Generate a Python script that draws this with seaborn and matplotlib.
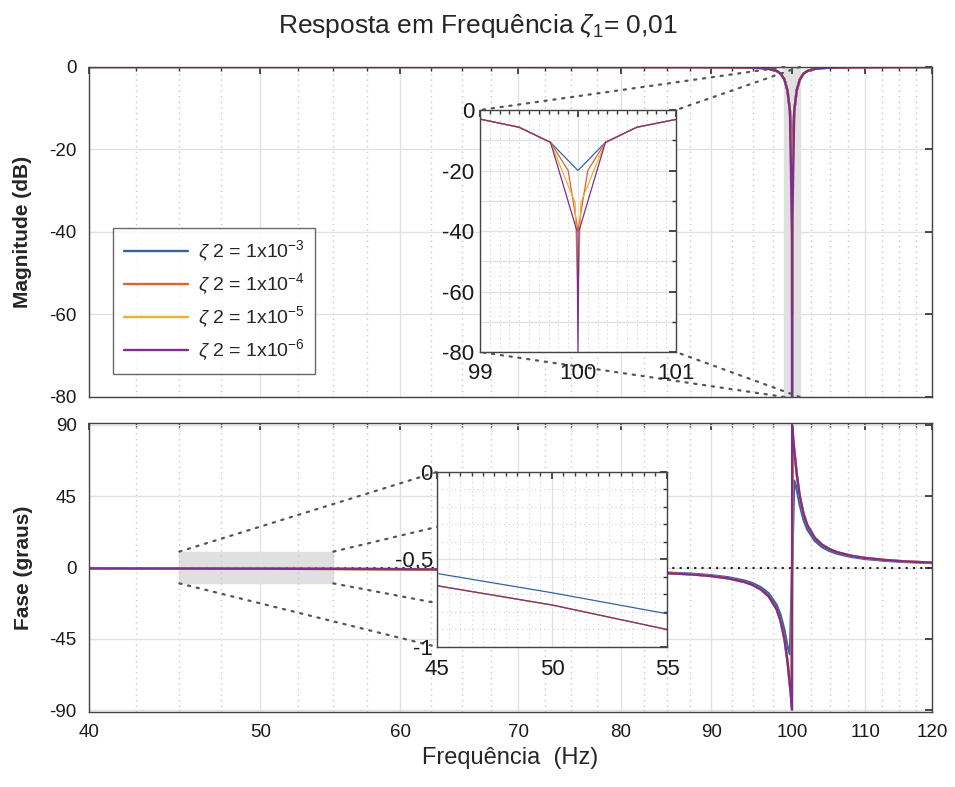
import numpy as np
import pandas as pd
import matplotlib.pyplot as plt
import seaborn as sns
from matplotlib.patches import Rectangle, ConnectionPatch
from matplotlib.ticker import FixedLocator, NullFormatter

sns.set_theme(style='white')
plt.rcParams['font.family'] = ['Liberation Sans', 'DejaVu Sans']
plt.rcParams['mathtext.fontset'] = 'custom'
plt.rcParams['mathtext.rm'] = 'Liberation Sans'
plt.rcParams['mathtext.it'] = 'Liberation Sans:italic'
plt.rcParams['axes.unicode_minus'] = False

# frequency grid (Hz)
freq_left = [40, 45, 50, 55, 60, 65, 70, 75, 80, 84, 88, 90, 92, 94, 95, 96, 97, 98, 98.5, 99, 99.4, 99.72]
freq_right = [100.28, 100.6, 101, 101.5, 102, 103, 104, 105, 106, 108, 110, 113, 116, 120]

# magnitude (dB), shared away from the notch
mag_left = [0, 0, 0, 0, 0, 0, 0, -0.01, -0.01, -0.02, -0.03, -0.04, -0.06, -0.11, -0.16, -0.25,
            -0.45, -0.95, -1.6, -3.0, -5.7, -10.7]
mag_right = [-10.7, -5.7, -3.1, -1.6, -1.0, -0.47, -0.27, -0.18, -0.13, -0.07, -0.05, -0.03, -0.02, -0.01]

# phase (graus)
phase_left = [-0.55, -0.65, -0.76, -0.9, -1.07, -1.29, -1.57, -1.96, -2.54, -3.27, -4.46, -5.41, -6.83,
              -9.17, -11.0, -13.8, -18.2, -26.3, -33.5, -44.9, -59.0, -74.3]
phase_right = [74.4, 59.1, 45.1, 33.9, 26.8, 18.7, 14.3, 11.6, 9.7, 7.4, 6.0, 4.7, 3.8, 3.1]
phase_left_b = [-0.49, -0.58, -0.69, -0.81, -0.97, -1.16, -1.42, -1.77, -2.29, -2.94, -4.01, -4.87, -6.14,
                -8.25, -9.9, -12.4, -16.3, -23.5, -29.7, -39.2, -49.6, -54.7]
phase_right_b = [54.7, 49.6, 39.4, 30.1, 23.9, 16.8, 12.8, 10.4, 8.75, 6.66, 5.38, 4.2, 3.46, 2.81]

# points right at the notch, one set per curve
labels = [r'$\zeta$ 2 = 1x10$^{-3}$', r'$\zeta$ 2 = 1x10$^{-4}$',
          r'$\zeta$ 2 = 1x10$^{-5}$', r'$\zeta$ 2 = 1x10$^{-6}$']
notch_f = [[100.0], [99.9, 100.0, 100.1], [99.97, 100.0, 100.03], [99.99, 100.0, 100.01]]
notch_mag = [[-20], [-20, -40, -20], [-30.5, -60, -30.5], [-40, -80, -40]]
notch_phase = [[0], [-78.6, 0, 78.6], [-86.4, 0, 86.4], [-89.5, 0, 89.5]]
colors = ['#35649e', '#e0622f', '#efb02c', '#7e2f8e']

rows = []
for i, lab in enumerate(labels):
    pl = phase_left_b if i == 0 else phase_left
    pr = phase_right_b if i == 0 else phase_right
    f = freq_left + notch_f[i] + freq_right
    m = mag_left + notch_mag[i] + mag_right
    p = pl + notch_phase[i] + pr
    for a, b, c in zip(f, m, p):
        rows.append((lab, a, b, c))
df = pd.DataFrame(rows, columns=['serie', 'freq', 'mag', 'fase'])
pal = dict(zip(labels, colors))

fig = plt.figure(figsize=(9.55, 7.87), dpi=100)
ax1 = fig.add_axes([0.0932, 0.4956, 0.8827, 0.4193], zorder=1)
ax2 = fig.add_axes([0.0932, 0.0953, 0.8827, 0.3672], zorder=1)
ins1 = fig.add_axes([0.5026, 0.5527, 0.2052, 0.3075], zorder=3)
ins2 = fig.add_axes([0.4576, 0.1779, 0.2408, 0.2224], zorder=3)

def style(ax, size, xpad, ypad):
    ax.tick_params(which='both', direction='in', top=True, right=True, colors='#333333',
                   labelcolor='#1a1a1a', labelsize=size)
    ax.tick_params(axis='x', which='major', length=5, pad=xpad)
    ax.tick_params(axis='y', which='major', length=5, pad=ypad)
    ax.tick_params(which='minor', length=3)
    for s in ax.spines.values():
        s.set_color('#444444')
        s.set_linewidth(1)
    ax.grid(which='major', color='#e2e2e2', lw=1, ls='-')
    ax.set_axisbelow(True)

# main axes
ax1.axvspan(99, 101, color='#e0e0e0', zorder=0)
ax2.add_patch(Rectangle((45, -10), 10, 20, color='#e0e0e0', zorder=0))
ax2.axhline(0, color='#222222', ls=(0, (1, 2.5)), lw=1.5, zorder=1)

sns.lineplot(data=df, x='freq', y='mag', hue='serie', palette=pal, ax=ax1, lw=1.7,
             estimator=None, sort=False)
sns.lineplot(data=df, x='freq', y='fase', hue='serie', palette=pal, ax=ax2, lw=1.7,
             estimator=None, sort=False, legend=False)

for ax in (ax1, ax2):
    ax.set_xscale('log')
    ax.set_xlim(40, 120)
    ax.xaxis.set_major_locator(FixedLocator([40, 50, 60, 70, 80, 90, 100, 110, 120]))
    ax.xaxis.set_minor_locator(FixedLocator(np.arange(40, 120.1, 2.5)))
    ax.xaxis.set_minor_formatter(NullFormatter())
    style(ax, 13.5, 9, 9)
    ax.grid(which='minor', axis='x', color='#c8c8c8', ls=(0, (1, 3)), lw=1)

ax1.set_ylim(-80, 0)
ax1.set_yticks([-80, -60, -40, -20, 0])
ax1.set_xticklabels([])
ax1.set_xlabel('')
ax1.set_ylabel('Magnitude (dB)', fontsize=15, fontweight='bold', labelpad=12)

ax2.set_ylim(-91, 91)
ax2.set_yticks([-90, -45, 0, 45, 90])
ax2.set_xticklabels(['40', '50', '60', '70', '80', '90', '100', '110', '120'])
ax2.set_xlabel('Frequência  (Hz)', fontsize=17, labelpad=4)
ax2.set_ylabel('Fase (graus)', fontsize=15, fontweight='bold', labelpad=12)

leg = ax1.legend(loc='upper left', bbox_to_anchor=(0.0285, 0.512), borderaxespad=0,
                 fontsize=14, handlelength=3.3, handletextpad=0.5, frameon=True,
                 fancybox=False, borderpad=0.55, labelspacing=0.38)
leg.get_frame().set_edgecolor('#444444')
leg.get_frame().set_linewidth(1)

# inset 1: zoom on the notch
sns.lineplot(data=df, x='freq', y='mag', hue='serie', palette=pal, ax=ins1, lw=0.9,
             estimator=None, sort=False, legend=False)
ins1.set_xlim(99, 101)
ins1.set_ylim(-80, 0)
ins1.set_xticks([99, 100, 101])
ins1.set_yticks([-80, -60, -40, -20, 0])
ins1.xaxis.set_minor_locator(FixedLocator(np.arange(99, 101.01, 0.1)))
ins1.yaxis.set_minor_locator(FixedLocator(np.arange(-80, 0.1, 10)))
ins1.set_xlabel('')
ins1.set_ylabel('')
style(ins1, 16, 8, 4)
ins1.grid(which='minor', axis='y', color='#e2e2e2', lw=1, ls='-')
ins1.grid(which='minor', axis='x', color='#cccccc', lw=0.8, ls=(0, (1, 3)))

# inset 2: zoom on the phase between 45 and 55 Hz
sns.lineplot(data=df, x='freq', y='fase', hue='serie', palette=pal, ax=ins2, lw=0.9,
             estimator=None, sort=False, legend=False)
ins2.set_xlim(45, 55)
ins2.set_ylim(-1, 0)
ins2.set_xticks([45, 50, 55])
ins2.set_yticks([-1, -0.5, 0])
ins2.set_yticklabels(['-1', '-0.5', '0'])
ins2.xaxis.set_minor_locator(FixedLocator(np.arange(45, 55.01, 0.5)))
ins2.yaxis.set_minor_locator(FixedLocator(np.arange(-1, 0.01, 0.1)))
ins2.set_xlabel('')
ins2.set_ylabel('')
style(ins2, 16, 9, 3)
ins2.grid(which='minor', color='#d0d0d0', lw=0.8, ls=(0, (1, 3)))

# dotted connectors between shaded regions and insets
links = [(ax1, ins1, [((99, 0), (0, 1)), ((101, 0), (1, 1)), ((99, -80), (0, 0)), ((101, -80), (1, 0))]),
         (ax2, ins2, [((45, 10), (0, 1)), ((55, 10), (1, 1)), ((45, -10), (0, 0)), ((55, -10), (1, 0))])]
for src, dst, pairs in links:
    for a, b in pairs:
        con = ConnectionPatch(xyA=a, coordsA=src.transData, xyB=b, coordsB=dst.transAxes,
                              color='#555555', lw=1.6, ls=(0, (1, 3)), zorder=2)
        fig.add_artist(con)

fig.suptitle(r'Resposta em Frequência $\zeta_1$= 0,01', fontsize=19, x=0.5, y=0.985)

fig.savefig('out.png', dpi=100)
